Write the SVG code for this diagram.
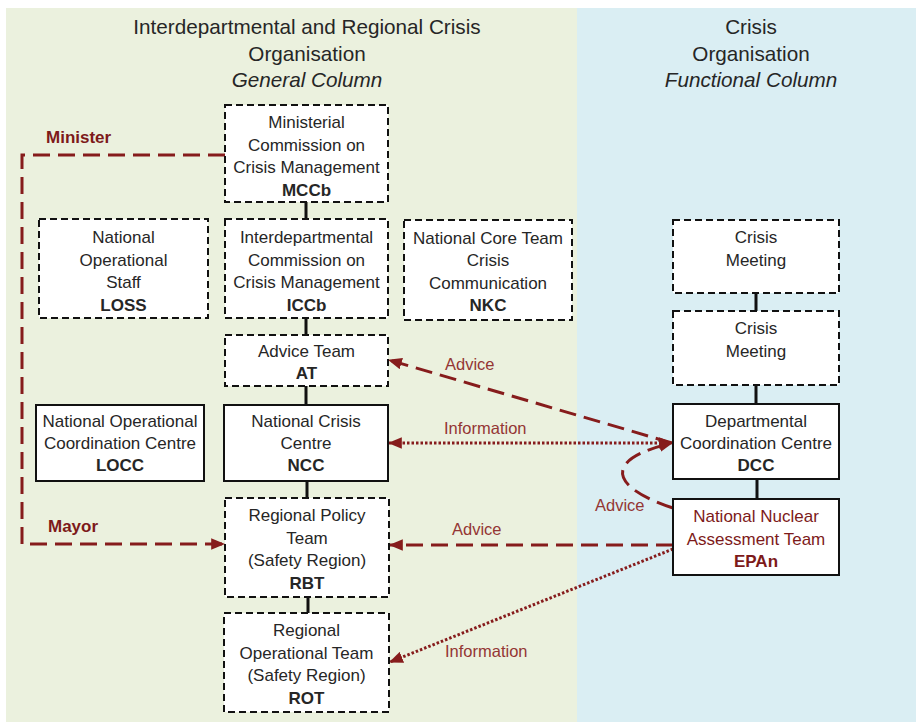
<svg xmlns="http://www.w3.org/2000/svg" width="916" height="722" viewBox="0 0 916 722">
<style>
  text { font-family: "Liberation Sans", Arial, sans-serif; }
  .hdr { font-size: 20.7px; fill: #262626; text-anchor: middle; }
  .hdr-i { font-style: italic; }
  .nt { font-size: 17px; fill: #262626; text-anchor: middle; }
  .b { font-weight: bold; }
  .red { fill: #7d1a1a; }
  .lbl { font-size: 16.5px; fill: #943634; }
  .lblb { font-size: 17px; font-weight: bold; fill: #7d1a1a; }
  .dbox { fill: #ffffff; stroke: #111; stroke-width: 2; stroke-dasharray: 7 4; }
  .sbox { fill: #ffffff; stroke: #111; stroke-width: 2; }
  .link { stroke: #111; stroke-width: 3; fill: none; }
  .dash { stroke: #861c1c; stroke-width: 3; fill: none; stroke-dasharray: 17 8; }
  .dot { stroke: #861c1c; stroke-width: 3; fill: none; stroke-dasharray: 2.5 2; }
</style>
<defs>
  <marker id="ah" viewBox="0 0 12 10" refX="11" refY="5" markerWidth="14" markerHeight="12" markerUnits="userSpaceOnUse" orient="auto">
    <path d="M0,0 L12,5 L0,10 Z" fill="#861c1c"/>
  </marker>
  <marker id="ahs" viewBox="0 0 12 10" refX="11" refY="5" markerWidth="14" markerHeight="12" markerUnits="userSpaceOnUse" orient="auto-start-reverse">
    <path d="M0,0 L12,5 L0,10 Z" fill="#861c1c"/>
  </marker>
</defs>

<!-- background panels -->
<rect x="6" y="8" width="571" height="714" fill="#EBF1DE"/>
<rect x="577" y="8" width="339" height="714" fill="#DAEEF3"/>

<!-- headers -->
<g id="header-left">
  <text class="hdr" x="307" y="34">Interdepartmental and Regional Crisis</text>
  <text class="hdr" x="307" y="61">Organisation</text>
  <text class="hdr hdr-i" x="307" y="87">General Column</text>
</g>
<g id="header-right">
  <text class="hdr" x="751" y="34">Crisis</text>
  <text class="hdr" x="751" y="61">Organisation</text>
  <text class="hdr hdr-i" x="751" y="87">Functional Column</text>
</g>

<!-- connectors -->
<g id="connectors">
  <line class="link" x1="306" y1="202" x2="306" y2="219"/>
  <line class="link" x1="306" y1="318" x2="306" y2="335"/>
  <line class="link" x1="306" y1="386" x2="306" y2="405"/>
  <line class="link" x1="307" y1="481" x2="307" y2="498"/>
  <line class="link" x1="308" y1="597" x2="308" y2="613"/>
  <line class="link" x1="756" y1="293" x2="756" y2="311"/>
  <line class="link" x1="756" y1="385" x2="756" y2="404"/>
  <line class="link" x1="757" y1="479" x2="757" y2="499"/>

  <path class="dash" d="M225,155 H22 V544 H224" marker-end="url(#ah)"/>
  <path class="dash" d="M672,443 L389,360" marker-end="url(#ah)"/>
  <path class="dot" d="M389,443 L672,443" marker-start="url(#ahs)" marker-end="url(#ah)"/>
  <path class="dash" d="M673,508 C612,488 600,460 672,443" marker-end="url(#ah)"/>
  <path class="dash" d="M673,545 L390,545" marker-end="url(#ah)"/>
  <path class="dot" d="M673,549 L390,662" marker-end="url(#ah)"/>

  <text class="lblb" x="46" y="143">Minister</text>
  <text class="lblb" x="48" y="532">Mayor</text>
  <text class="lbl" x="445" y="370">Advice</text>
  <text class="lbl" x="444" y="434">Information</text>
  <text class="lbl" x="595" y="511">Advice</text>
  <text class="lbl" x="452" y="535">Advice</text>
  <text class="lbl" x="445" y="657">Information</text>
</g>

<!-- nodes -->
<g id="MCCb">
  <rect class="dbox" x="225" y="105" width="163" height="97"/>
  <text class="nt" x="306.5" y="128">Ministerial</text>
  <text class="nt" x="306.5" y="150.5">Commission on</text>
  <text class="nt" x="306.5" y="173">Crisis Management</text>
  <text class="nt b" x="306.5" y="195.5">MCCb</text>
</g>
<g id="LOSS">
  <rect class="dbox" x="39" y="219" width="169" height="99"/>
  <text class="nt" x="123.5" y="243">National</text>
  <text class="nt" x="123.5" y="265.5">Operational</text>
  <text class="nt" x="123.5" y="288">Staff</text>
  <text class="nt b" x="123.5" y="310.5">LOSS</text>
</g>
<g id="ICCb">
  <rect class="dbox" x="225" y="219" width="163" height="99"/>
  <text class="nt" x="306.5" y="243">Interdepartmental</text>
  <text class="nt" x="306.5" y="265.5">Commission on</text>
  <text class="nt" x="306.5" y="288">Crisis Management</text>
  <text class="nt b" x="306.5" y="310.5">ICCb</text>
</g>
<g id="NKC">
  <rect class="dbox" x="404" y="220" width="168" height="100"/>
  <text class="nt" x="488" y="243.5">National Core Team</text>
  <text class="nt" x="488" y="266">Crisis</text>
  <text class="nt" x="488" y="288.5">Communication</text>
  <text class="nt b" x="488" y="311">NKC</text>
</g>
<g id="AT">
  <rect class="dbox" x="225" y="335" width="163" height="51"/>
  <text class="nt" x="306.5" y="357">Advice Team</text>
  <text class="nt b" x="306.5" y="379">AT</text>
</g>
<g id="LOCC">
  <rect class="sbox" x="36" y="405" width="168" height="76"/>
  <text class="nt" x="120" y="427">National Operational</text>
  <text class="nt" x="120" y="449">Coordination Centre</text>
  <text class="nt b" x="120" y="471">LOCC</text>
</g>
<g id="NCC">
  <rect class="sbox" x="224" y="405" width="164" height="76"/>
  <text class="nt" x="306" y="427">National Crisis</text>
  <text class="nt" x="306" y="449">Centre</text>
  <text class="nt b" x="306" y="471">NCC</text>
</g>
<g id="RBT">
  <rect class="dbox" x="225" y="498" width="164" height="99"/>
  <text class="nt" x="307" y="521">Regional Policy</text>
  <text class="nt" x="307" y="543.5">Team</text>
  <text class="nt" x="307" y="566">(Safety Region)</text>
  <text class="nt b" x="307" y="588.5">RBT</text>
</g>
<g id="ROT">
  <rect class="dbox" x="224" y="613" width="165" height="99"/>
  <text class="nt" x="306.5" y="636">Regional</text>
  <text class="nt" x="306.5" y="658.5">Operational Team</text>
  <text class="nt" x="306.5" y="681">(Safety Region)</text>
  <text class="nt b" x="306.5" y="703.5">ROT</text>
</g>
<g id="CrisisMeeting1">
  <rect class="dbox" x="673" y="220" width="166" height="73"/>
  <text class="nt" x="756" y="243">Crisis</text>
  <text class="nt" x="756" y="266">Meeting</text>
</g>
<g id="CrisisMeeting2">
  <rect class="dbox" x="673" y="311" width="166" height="74"/>
  <text class="nt" x="756" y="334">Crisis</text>
  <text class="nt" x="756" y="357">Meeting</text>
</g>
<g id="DCC">
  <rect class="sbox" x="673" y="404" width="166" height="75"/>
  <text class="nt" x="756" y="427">Departmental</text>
  <text class="nt" x="756" y="449">Coordination Centre</text>
  <text class="nt b" x="756" y="471">DCC</text>
</g>
<g id="EPAn">
  <rect class="sbox" x="673" y="499" width="166" height="76"/>
  <text class="nt red" x="756" y="522">National Nuclear</text>
  <text class="nt red" x="756" y="544.5">Assessment Team</text>
  <text class="nt b red" x="756" y="567">EPAn</text>
</g>
</svg>
